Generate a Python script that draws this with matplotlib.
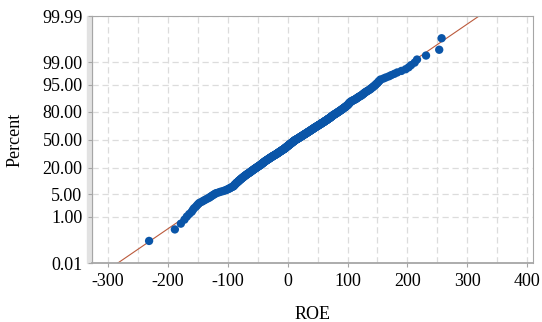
import numpy as np
import matplotlib.pyplot as plt
from matplotlib.patches import Rectangle
from matplotlib.ticker import MultipleLocator
from statistics import NormalDist

# valores de ROE (ordenados)
roe_values = [
    -231, -188, -178, -172, -168, -164, -160, -158, -156, -153, -151, -149, -147, -143, -140, -137, -134,
    -131, -129, -127, -125, -123, -121, -119,
    -115, -112, -108, -105, -102,
    -100, -98, -96, -95, -93, -91,
    -90, -89, -89, -88, -87, -86, -86, -85, -84, -83,
    -82, -82, -81, -80, -79, -79, -78, -77, -76, -76, -75, -74, -73, -73, -72, -71, -70, -70, -69, -68,
    -67, -67, -66, -65, -64,
    -63, -63, -62, -61, -61, -60, -59, -59, -58, -57, -57, -56, -55, -55, -54, -53, -53, -52, -51, -51,
    -50, -49, -49, -48, -47, -47, -46, -46, -45, -44, -44, -43, -43, -42, -42, -41, -41,
    -40, -40, -39, -39, -38, -38, -37, -37, -36, -35, -35, -34, -34, -33, -33, -32, -31, -31, -30, -30,
    -29, -29, -28, -28, -27, -26, -26, -25, -25, -24, -24, -23, -22, -22, -21, -21, -20,
    -19, -19, -18, -18, -17, -17, -16, -16, -15, -15, -14, -14, -13, -13, -12, -12, -11, -11, -10, -10,
    -9, -9, -8, -8, -7,
    -6, -6, -6, -5, -5, -4, -4, -4, -3, -3, -2, -2, -2, -1, -1, 0, 0, 0, 1, 1, 2, 2, 2, 3, 3,
    4, 4, 4, 5, 5, 6, 6, 6, 7, 7, 8, 8, 8, 9, 9, 10, 10, 10, 11, 11, 12, 12, 12, 13, 13, 14,
    15, 15, 16, 16, 17, 17, 18, 18, 19, 19, 20, 20, 21, 21, 22, 22, 23, 23, 24, 24, 25, 25, 26, 26,
    27, 27, 28, 28, 29, 29, 30, 30, 31, 31, 32, 32, 33, 33, 34, 34, 35, 35, 36, 36, 37, 37, 38, 38,
    39, 39, 40, 40, 41, 41, 42, 42, 43, 43, 44, 44, 45, 45,
    46, 46, 47, 47, 48, 48, 49, 50, 50, 51, 51, 52, 52, 53, 53, 54, 55, 55, 56, 56, 57, 57, 58, 58,
    59, 60, 60, 61, 61, 62, 62, 63, 63, 64, 65, 65, 66, 66, 67, 67, 68, 68, 69, 70, 70, 71, 71, 72,
    72, 73, 73, 74, 74, 75, 75,
    76, 76, 77, 78, 78, 79, 80, 80, 81, 82, 82, 83, 84, 84, 85, 86, 86, 87, 88, 88, 89, 90, 90, 91,
    92, 92, 93, 94, 94, 95, 96, 96, 97, 98, 98, 99, 100, 100, 101, 101, 102, 102, 103, 103, 104, 104,
    105, 106, 107, 108, 109, 110, 112, 113, 114, 115, 116, 117, 118, 119, 120, 122, 123, 124, 125,
    126, 127, 128, 129, 130, 132,
    133, 135, 136, 138, 139, 140, 142, 143, 144, 146, 147, 148, 150, 151, 152, 154, 155,
    160, 164, 169, 173, 178, 183, 190, 197, 202, 206, 212, 216, 231, 253, 257,
]

# recta normal ajustada (media, desvio)
fit_mean = 18
fit_sd = 81

pct_ticks = [0.01, 1, 5, 20, 50, 80, 95, 99, 99.99]
x_ticks = [-300, -200, -100, 0, 100, 200, 300, 400]

nd = NormalDist()

plt.rcParams['font.family'] = ['Liberation Serif', 'DejaVu Serif']
plt.rcParams['axes.unicode_minus'] = False

roe = np.sort(np.array(roe_values, dtype=float))
n = len(roe)
pos = (np.arange(1, n + 1) - 0.5) / n
zpos = np.array([nd.inv_cdf(p) for p in pos])

fig, ax = plt.subplots(figsize=(5.42, 3.22), dpi=100)
fig.subplots_adjust(left=0.170, right=0.984, top=0.950, bottom=0.183)

ax.set_xlim(-326, 410)
zmin = nd.inv_cdf(0.0001)
zmax = nd.inv_cdf(0.9999)
ax.set_ylim(zmin, zmax)

# grilla punteada
ax.set_xticks(x_ticks)
ax.xaxis.set_minor_locator(MultipleLocator(50))
ax.set_yticks([nd.inv_cdf(p / 100) for p in pct_ticks])
ax.set_yticklabels(['%.2f' % p for p in pct_ticks])
ax.grid(True, which='both', color='#dcdcdc', linestyle=(0, (5, 3)), linewidth=0.9)
ax.set_axisbelow(True)

# recta ajustada
xl = np.array([-340, 420])
ax.plot(xl, (xl - fit_mean) / fit_sd, color='#bb5a3c', linewidth=0.8, zorder=2)

# puntos
ax.scatter(roe, zpos, s=36, color='#0a55a8', edgecolors='none', zorder=3)

for s in ['top', 'right', 'bottom', 'left']:
    ax.spines[s].set_color('#a6a6a6')
ax.spines['bottom'].set_linewidth(1.3)
ax.add_patch(Rectangle((-0.011, 0), 0.011, 1, transform=ax.transAxes,
                       color='#e2e2e2', clip_on=False, zorder=0))

ax.tick_params(which='major', direction='out', length=3, color='#a6a6a6', labelsize=13, pad=4)
ax.tick_params(which='minor', length=0)

ax.set_xlabel('ROE', fontsize=13, labelpad=12)
ax.set_ylabel('Percent', fontsize=13, labelpad=13)

fig.savefig('out.png', dpi=100)
